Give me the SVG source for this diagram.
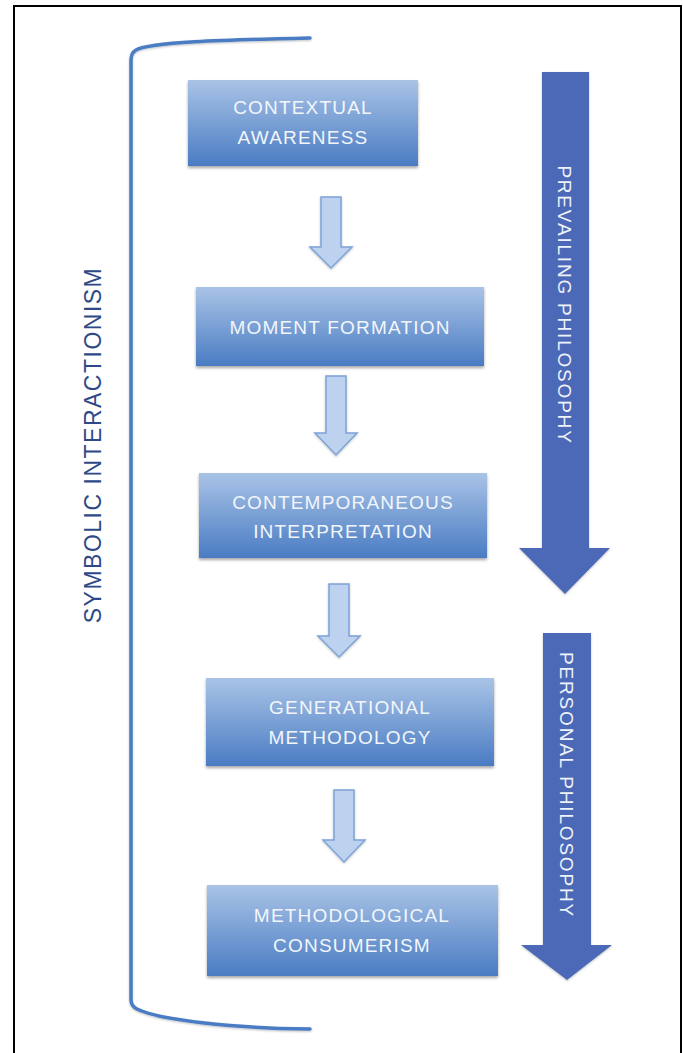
<svg xmlns="http://www.w3.org/2000/svg" width="683" height="1053" viewBox="0 0 683 1053">
<defs>
<linearGradient id="boxg" x1="0" y1="0" x2="0" y2="1">
<stop offset="0" stop-color="#a9c3e6"/>
<stop offset="1" stop-color="#4a7cc3"/>
</linearGradient>
<filter id="sh" x="-10%" y="-10%" width="120%" height="130%">
<feDropShadow dx="0" dy="2" stdDeviation="1.5" flood-color="#000" flood-opacity="0.35"/>
</filter>
<filter id="sh2" x="-10%" y="-10%" width="120%" height="130%">
<feDropShadow dx="0" dy="1" stdDeviation="1" flood-color="#000" flood-opacity="0.25"/>
</filter>
</defs>
<style>
.box{fill:url(#boxg);filter:url(#sh)}
.bt{font-family:"Liberation Sans",Arial,sans-serif;font-size:19px;letter-spacing:1.2px;fill:#f2f6fb;text-anchor:middle}
.sa{fill:#bcd2ef;stroke:#7ea3d6;stroke-width:1.5;filter:url(#sh2)}
.ba{fill:#4b69b6;filter:url(#sh2)}
.lt{font-family:"Liberation Sans",Arial,sans-serif;font-size:19px;letter-spacing:1.8px;fill:#eef2fa;text-anchor:middle}
.br{fill:none;stroke:#4a7cc3;stroke-width:3.5;stroke-linecap:round;filter:url(#sh2)}
</style>
<rect x="0" y="0" width="683" height="1053" fill="#fff"/>
<path d="M14,1060 L14,6 L681,6 L681,1060" fill="none" stroke="#000" stroke-width="2"/>

<g id="bracket">
<path class="br" d="M310,38 C220,40 150,42 136,50 Q131,53 131,60 L131,1000 Q131,1006 137,1009 C160,1020 230,1028 310,1029"/>
<text x="0" y="0" transform="translate(101,445) rotate(-90)" font-family="'Liberation Sans',Arial,sans-serif" font-size="23" letter-spacing="1.5" fill="#2e4a86" text-anchor="middle">SYMBOLIC INTERACTIONISM</text>
</g>

<g id="prevailing">
<path class="ba" d="M542,72 L589,72 L589,548 L610,548 L565,594 L519,548 L542,548 Z"/>
<text class="lt" transform="translate(558,305) rotate(90)">PREVAILING PHILOSOPHY</text>
</g>

<g id="personal">
<path class="ba" d="M543,633 L591,633 L591,945 L612,945 L567,980 L521,945 L543,945 Z"/>
<text class="lt" transform="translate(560,785) rotate(90)">PERSONAL PHILOSOPHY</text>
</g>

<g id="n1">
<rect class="box" x="188" y="80" width="230" height="86"/>
<text class="bt" x="303" y="114">CONTEXTUAL</text>
<text class="bt" x="303" y="144">AWARENESS</text>
</g>
<g id="n2">
<rect class="box" x="196" y="287" width="288" height="79"/>
<text class="bt" x="340" y="334">MOMENT FORMATION</text>
</g>
<g id="n3">
<rect class="box" x="199" y="473" width="288" height="85"/>
<text class="bt" x="343" y="509">CONTEMPORANEOUS</text>
<text class="bt" x="343" y="538">INTERPRETATION</text>
</g>
<g id="n4">
<rect class="box" x="206" y="678" width="288" height="88"/>
<text class="bt" x="350" y="714">GENERATIONAL</text>
<text class="bt" x="350" y="744">METHODOLOGY</text>
</g>
<g id="n5">
<rect class="box" x="207" y="885" width="291" height="91"/>
<text class="bt" x="352" y="922">METHODOLOGICAL</text>
<text class="bt" x="352" y="952">CONSUMERISM</text>
</g>

<g id="connectors">
<path class="sa" d="M321,197 L341,197 L341,247 L352,247 L331,268 L310,247 L321,247 Z"/>
<path class="sa" d="M326,376 L346,376 L346,433 L357,433 L336,455 L315,433 L326,433 Z"/>
<path class="sa" d="M329,584 L349,584 L349,636 L360,636 L339,657 L318,636 L329,636 Z"/>
<path class="sa" d="M334,790 L354,790 L354,840 L365,840 L344,862 L323,840 L334,840 Z"/>
</g>
</svg>
